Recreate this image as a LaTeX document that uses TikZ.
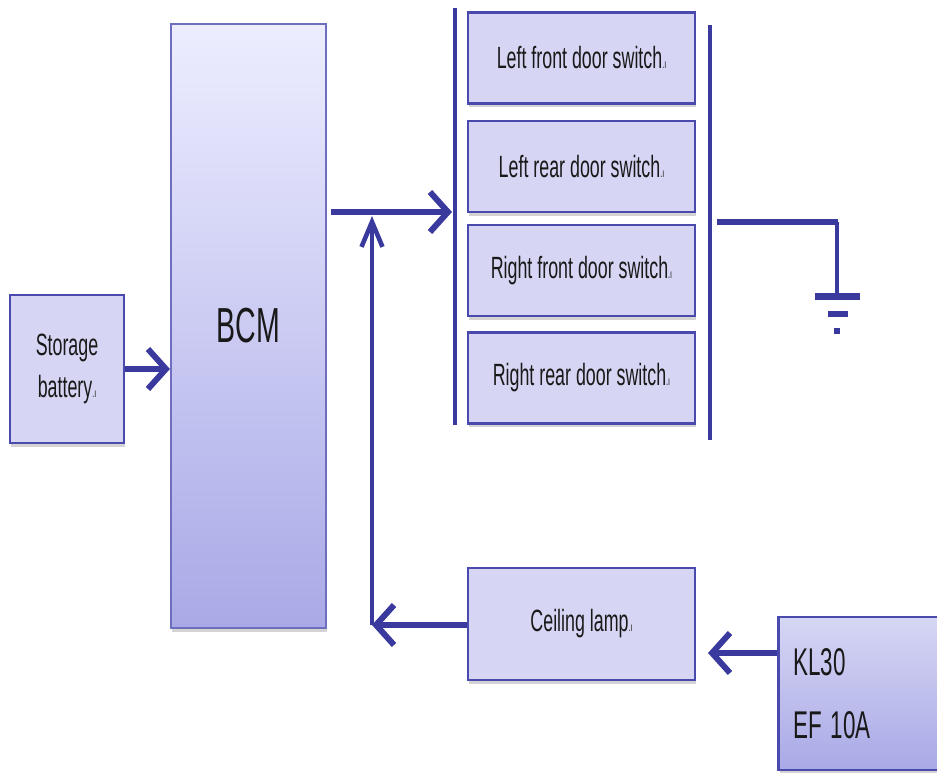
\documentclass[tikz,border=0pt]{standalone}
\usepackage{fontspec}
\setmainfont{Liberation Sans}[FakeStretch=0.58]
\usetikzlibrary{shapes, arrows.meta, positioning, calc, shadows}

\definecolor{wire}{HTML}{3A3A9E}
\definecolor{boxfill}{HTML}{D6D6F4}
\definecolor{boxdraw}{HTML}{4A4AAE}
\definecolor{boxlow}{HTML}{A9A9E7}
\newcommand{\mk}{{\fontsize{7}{7}\selectfont .ı}}

\begin{document}
\begin{tikzpicture}[
			x=0.02cm, y=-0.02cm,
			block/.style={rectangle, draw=boxdraw, line width=1.2pt, fill=boxfill, align=center, text=black!90,
				font=\fontsize{17.5}{21}\selectfont, drop shadow={opacity=0.35, shadow xshift=0.6pt, shadow yshift=-2.2pt}},
			switchbox/.style={block, minimum width=4.54cm, minimum height=1.82cm},
			arrow/.style={-{Straight Barb[length=0.36cm, width=0.8cm, line width=3.4pt]}, line width=0.13cm, draw=wire},
			uparrow/.style={-{Straight Barb[length=0.5cm, width=0.42cm, line width=2.6pt]}, line width=0.08cm, draw=wire},
			wireline/.style={line width=2.8pt, draw=wire}
			]
			\useasboundingbox (0,0) rectangle (937,773);
			
			% Supply and control unit
			\node[block, minimum width=2.28cm, minimum height=2.96cm, font=\fontsize{17.5}{24}\selectfont] (battery) at (67,369) {Storage\\battery\mk};
			\node[block, draw=boxdraw!80, top color=blue!7, bottom color=boxlow, minimum width=3.1cm, minimum height=12.08cm,
				font=\fontsize{28}{32}\selectfont] (bcm) at (248.5,326) {BCM};
			
			% Four door switches
			\node[switchbox] (s1) at (581.5,58) {Left front door switch\mk};
			\node[switchbox] (s2) at (581.5,166.5) {Left rear door switch\mk};
			\node[switchbox] (s3) at (581.5,270.5) {Right front door switch\mk};
			\node[switchbox] (s4) at (581.5,378) {Right rear door switch\mk};
			
			% Lamp and fuse
			\node[switchbox, minimum height=2.24cm] (lamp) at (581.5,624) {Ceiling lamp\mk};
			\node[block, top color=boxfill, bottom color=boxlow, minimum width=3.3cm, minimum height=3.06cm,
				text width=2.7cm, align=left, font=\fontsize{22}{36}\selectfont] (kl) at (861,693.5) {KL30\\EF\hspace{0.22em}10A};
			
			% Bus bars and ground
			\coordinate (busLt) at (455,8);
			\coordinate (busLb) at (455,425);
			\coordinate (busRt) at (710,25);
			\coordinate (busRb) at (710,440);
			\coordinate (busIn) at (452,212);
			\coordinate (gnd0) at (717,222);
			\coordinate (gnd1) at (837,222);
			\coordinate (gnd) at (837,297);
			\coordinate (join) at (372,216);
			\coordinate (corner) at (372,625);
			\coordinate (lampIn) at (708,653);
			
			\draw[wireline] (busLt) -- (busLb);
			\draw[wireline] (busRt) -- (busRb);
			\draw[wire, line width=0.12cm] (gnd0) -- ($(gnd1)+(1,0)$);
			\draw[wireline] (gnd1) -- (gnd);
			\draw[wire, line width=0.14cm] ($(gnd)+(-22,0)$) -- ($(gnd)+(23,0)$);
			\draw[wire, line width=0.13cm] ($(gnd)+(-9,17)$) -- ($(gnd)+(11,17)$);
			\draw[wire, line width=0.12cm] ($(gnd)+(-3,34)$) -- ($(gnd)+(3,34)$);
			
			% Arrows
			\draw[arrow] (battery.east) -- (bcm.west |- battery.east);
			\draw[arrow] ($(bcm.east |- busIn)+(4,0)$) -- (busIn);
			\draw[arrow] (lamp.west |- corner) -- (corner);
			\draw[uparrow] (corner) -- (join);
			\draw[arrow] (kl.west |- lampIn) -- (lampIn);
			
		\end{tikzpicture}
\end{document}
